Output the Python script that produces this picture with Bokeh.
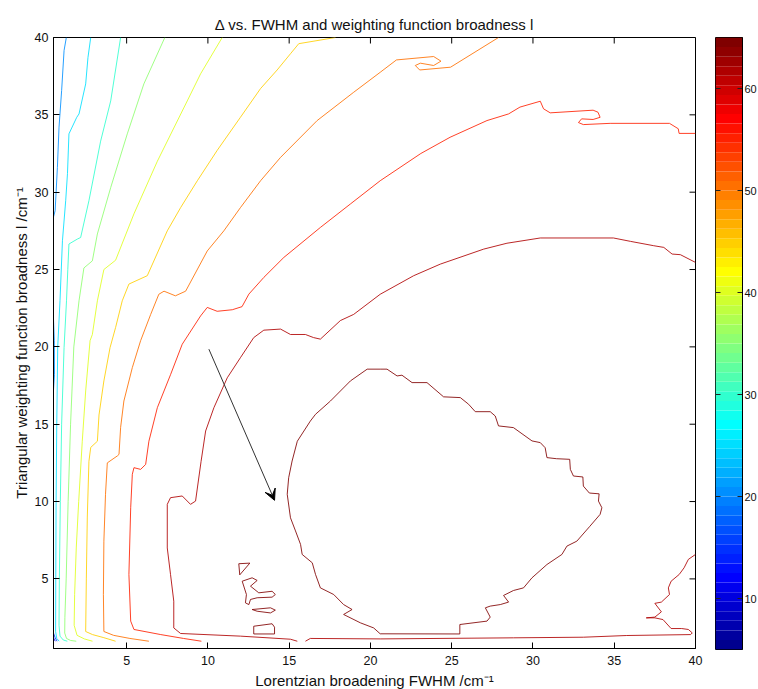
import numpy as np
from bokeh.plotting import figure
from bokeh.models import Range1d, LinearAxis, FixedTicker, Arrow, VeeHead
from bokeh.layouts import row
from bokeh.embed import file_html
from bokeh.resources import INLINE

# ---------------- data ----------------
title_text = "Δ vs. FWHM and weighting function broadness l"
x_label = "Lorentzian broadening FWHM /cm⁻¹"
y_label = "Triangular weighting function broadness l /cm⁻¹"
x_limits = [0.5, 40]
y_limits = [0.5, 40]
x_ticks = [5, 10, 15, 20, 25, 30, 35, 40]
y_ticks = [5, 10, 15, 20, 25, 30, 35, 40]
cbar_limits = [5, 65]
cbar_ticks = [10, 20, 30, 40, 50, 60]

lvl10_x = [[0.5, 0.56, 0.62]]
lvl10_y = [[1.2, 1.05, 0.97]]
lvl15_x = [[0.5, 0.6, 0.72]]
lvl15_y = [[1.5, 1.2, 0.97]]
lvl20_x = [[1.29, 1.15, 1.0, 0.84, 0.74, 0.6, 0.5], [0.5, 0.55, 0.56, 0.5]]
lvl20_y = [[40, 39.16, 36.57, 34.2, 31.6, 28.8, 28.4], [21.8, 20.4, 18.2, 17.2]]
lvl25_x = [[2.79, 2.62, 2.48, 2.07, 1.93, 1.45, 1.36, 1.25, 1.05, 0.9, 0.76, 0.7, 0.66, 0.64, 0.63, 0.7, 0.85]]
lvl25_y = [[40, 38.7, 37.0, 35.06, 34.84, 33.77, 31.2, 29.45, 26.86, 23.0, 20.0, 15.0, 10.0, 5.0, 1.6, 1.15, 0.97]]
lvl30_x = [[4.63, 4.02, 3.4, 2.68, 2.17, 1.97, 1.45, 1.38, 1.3, 1.15, 1.0, 0.92, 0.86, 0.84, 0.9, 1.1, 1.35]]
lvl30_y = [[40, 35.9, 33.3, 29.45, 27.07, 26.97, 26.65, 25.0, 22.98, 19.96, 15, 10, 5, 2.0, 1.3, 1.05, 0.97]]
lvl35_x = [[7.35, 6.06, 5.04, 4.02, 3.2, 2.89, 2.37, 2.07, 1.75, 1.55, 1.4, 1.28, 1.2, 1.19, 1.3, 1.55, 1.9]]
lvl35_y = [[40, 37.0, 33.77, 30.3, 27.3, 25.56, 25.1, 22.98, 20.0, 15, 10, 5, 2.5, 1.5, 1.15, 1.02, 0.97]]
lvl40_x = [[10.88, 9.55, 8.73, 6.89, 5.45, 4.32, 3.6, 3.2, 2.89, 2.75, 2.48, 2.27, 2.05, 1.9, 1.8, 1.77, 1.95, 2.4, 2.9]]
lvl40_y = [[40, 37.65, 35.9, 32.0, 28.6, 25.6, 25.0, 22.98, 20.8, 20.4, 17.15, 13.9, 10, 7, 4, 2, 1.35, 1.12, 0.97]]
lvl45_x = [[17.85, 15.59, 15.08, 14.26, 13.24, 12.0, 10.57, 9.35, 8.32, 7.5, 6.27, 5.14, 4.73, 4.32, 3.98, 3.6,
            3.3, 3.2, 2.79, 2.68, 2.58, 2.52, 2.48, 2.9, 3.6, 4.32]]
lvl45_y = [[40, 39.6, 38.95, 37.9, 36.7, 34.84, 32.7, 30.74, 29.0, 27.5, 24.6, 24.06, 22.98, 21.25, 19.95, 17.8,
            15.6, 13.9, 13.5, 12.6, 9.0, 5.0, 1.6, 1.4, 1.2, 0.97]]
lvl50_x = [[27.88, 24.93, 23.03, 22.76, 23.07, 23.89, 24.34, 23.89, 21.6, 20.6, 18.97, 16.72, 14.47, 13.24, 12.0,
            10.98, 9.96, 8.63, 8.0, 7.3, 6.98, 6.48, 5.86, 5.35, 4.83, 4.63, 4.53, 4.43, 3.81, 3.7, 3.6, 3.57,
            3.6, 4.2, 5.2, 6.37]]
lvl50_y = [[40, 38.08, 37.9, 38.19, 38.34, 38.19, 38.47, 38.77, 38.55, 37.75, 36.46, 34.63, 32.25, 30.74, 29.0,
            27.5, 26.2, 23.6, 23.3, 23.6, 23.4, 22.1, 20.4, 18.66, 16.5, 14.8, 13.05, 12.95, 12.5, 10.47, 7.44, 4.0,
            1.6, 1.35, 1.15, 0.97]]
lvl55_x = [[40, 38.99, 38.94, 38.4, 34.75, 33.1, 32.8, 32.99, 33.7, 34.13, 34.0, 33.7, 31.06, 30.65, 30.45, 29.2,
            28.5, 27.17, 24.9, 23.1, 20.6, 18.77, 16.92, 14.67, 13.44, 12.52, 12.1, 11.5, 10.57, 9.96, 9.55, 8.42,
            7.7, 6.89, 6.37, 6.17, 5.86, 5.45, 5.35, 5.25, 5.14, 5.25, 5.45, 7.1, 8.5, 9.6]]
lvl55_y = [[33.8, 33.8, 34.1, 34.45, 34.45, 34.37, 34.5, 34.74, 34.7, 34.84, 35.17, 35.3, 35.13, 35.39, 35.88, 35.5,
            35.06, 34.63, 33.55, 32.5, 30.74, 29.24, 27.72, 25.78, 24.49, 23.41, 22.6, 22.4, 22.3, 22.55, 22.0, 20.17,
            18.2, 16.07, 13.9, 12.4, 12.08, 12.19, 11.76, 9.6, 5.29, 2.27, 1.73, 1.4, 1.15, 0.97]]
lvl62_x = [[40, 39.07, 38.56, 38.05, 37.43, 36.0, 34.95, 30.45, 28.4, 26.97, 24.3, 22.66, 20.6, 18.97, 18.15, 16.92,
            16.5, 16.0, 15.08, 14.47, 13.44, 12.82, 12.0, 11.19, 10.37, 9.86, 9.58, 9.24, 8.93, 8.42, 7.7, 7.5, 7.5,
            7.7, 7.9, 7.9, 8.32, 12.0, 15.08, 15.5],
           [16.0, 16.3, 20.6, 28.8, 33.1, 35.77, 39.7, 39.8, 39.56, 39.15, 38.5, 38.0, 37.5, 36.97, 37.5, 37.9, 37.5,
            37.9, 38.4, 38.33, 38.5, 39.0, 39.3, 39.56, 40]]
lvl62_y = [[25.46, 25.96, 26.0, 26.43, 26.54, 26.82, 27.04, 27.04, 26.7, 26.32, 25.35, 24.6, 23.4, 22.1, 21.7, 20.5,
            20.6, 20.8, 20.8, 21.15, 21.08, 20.6, 19.3, 18.0, 16.07, 14.56, 12.6, 10.03, 9.82, 10.36, 10.25, 9.82, 7.0,
            5.29, 3.56, 1.83, 1.47, 1.3, 1.1, 0.97],
           [0.97, 1.15, 1.12, 1.19, 1.23, 1.34, 1.4, 1.51, 1.73, 1.79, 1.79, 2.37, 2.48, 2.48, 2.53, 2.87, 3.42,
            3.5, 3.99, 4.42, 4.85, 5.29, 5.72, 6.26, 6.58]]
lvl64_x = [[20.6, 21.02, 21.64, 21.94, 22.56, 23.48, 24.5, 25.53, 26.04, 26.45, 27.37, 27.68, 27.88, 28.8, 29.94,
            30.45, 30.75, 30.86, 31.45, 32.26, 32.3, 32.49, 33.07, 33.1, 33.47, 34.07, 34.03, 34.24, 34.13, 33.5,
            32.7, 32.09, 31.78, 30.86, 29.94, 29.42, 28.8, 28.19, 28.5, 27.99, 27.37, 27.07, 27.37, 27.17, 25.5,
            25.5, 20.6, 20.2, 19.38, 18.35, 18.87, 18.35, 17.74, 16.92, 16.62, 16.42, 15.8, 15.7, 15.39, 15.08,
            14.88, 14.97, 15.18, 15.5, 16.3, 16.62, 17.54, 18.77, 19.8, 20.6],
           [11.9, 12.58, 11.96, 11.9],
           [12.11, 12.72, 13.03, 12.62, 13.13, 13.95, 14.15, 13.95, 13.03, 12.62, 12.52, 12.31, 12.37, 12.11],
           [12.72, 13.85, 14.15, 13.85, 13.03, 12.72],
           [12.82, 13.95, 14.1, 14.1, 12.82, 12.82]]
lvl64_y = [[18.56, 18.56, 18.12, 18.17, 17.69, 17.69, 16.77, 16.72, 16.29, 15.81, 15.81, 15.53, 14.89, 14.78, 13.92,
            13.81, 13.48, 12.84, 12.77, 12.73, 12.08, 11.65, 11.59, 11.0, 10.55, 10.5, 10.03, 9.6, 9.17, 8.4,
            7.44, 7.12, 6.58, 5.93, 5.07, 4.42, 4.25, 3.93, 3.5, 3.34, 3.24, 3.13, 2.53, 2.27, 2.05,
            1.44, 1.45, 1.83, 2.16, 2.7, 3.02, 3.34, 3.99, 4.42, 5.29, 6.04, 6.58, 7.23, 8.1, 8.95,
            10.47, 11.54, 12.62, 13.9, 15.2, 15.64, 16.5, 17.8, 18.56, 18.56],
           [5.98, 6.02, 5.26, 5.98],
           [4.85, 5.07, 4.9, 4.53, 4.1, 4.2, 3.99, 3.82, 3.78, 3.67, 3.34, 3.45, 3.99, 4.85],
           [3.02, 3.13, 2.98, 2.8, 2.91, 3.02],
           [1.94, 2.1, 1.88, 1.44, 1.44, 1.94]]

contour_levels = [10, 15, 20, 25, 30, 35, 40, 45, 50, 55, 62, 64.5]
contour_lines = {
    10: (lvl10_x, lvl10_y), 15: (lvl15_x, lvl15_y), 20: (lvl20_x, lvl20_y), 25: (lvl25_x, lvl25_y),
    30: (lvl30_x, lvl30_y), 35: (lvl35_x, lvl35_y), 40: (lvl40_x, lvl40_y), 45: (lvl45_x, lvl45_y),
    50: (lvl50_x, lvl50_y), 55: (lvl55_x, lvl55_y), 62: (lvl62_x, lvl62_y), 64.5: (lvl64_x, lvl64_y),
}

arrow_start = (10.06, 19.85)
arrow_end = (14.1, 10.08)


# ---------------- colormap (MATLAB jet, 64 entries) ----------------
def matlab_jet(m=64):
    n = int(np.ceil(m / 4))
    u = np.concatenate([np.arange(1, n + 1) / n, np.ones(n - 1), np.arange(n, 0, -1) / n])
    g = int(np.ceil(n / 2)) - (1 if m % 4 == 1 else 0) + np.arange(1, len(u) + 1)
    r = g + n
    b = g - n
    cmap = np.zeros((m, 3))
    for arr, col in ((r, 0), (g, 1), (b, 2)):
        for idx, val in zip(arr, u):
            if 1 <= idx <= m:
                cmap[idx - 1, col] = val
    return ["#%02x%02x%02x" % tuple(int(round(c * 255)) for c in rgb) for rgb in cmap]


JET = matlab_jet(64)


def level_color(v):
    lo, hi = cbar_limits
    i = int((v - lo) / (hi - lo) * len(JET))
    return JET[max(0, min(len(JET) - 1, i))]


FONT = "Liberation Sans"
TXT = "#111111"
TICK_LEN = 6

# ---------------- main contour axes ----------------
p = figure(frame_width=642, frame_height=611,
           x_range=Range1d(*x_limits), y_range=Range1d(*y_limits),
           output_backend="svg", toolbar_location=None,
           min_border_left=53, min_border_right=10, min_border_top=37, min_border_bottom=41,
           background_fill_color="white", border_fill_color="white")
p.grid.visible = False
p.outline_line_color = "black"
p.outline_line_width = 1

p.title.text = title_text
p.title.align = "center"
p.title.text_font = FONT
p.title.text_font_size = "15px"
p.title.text_font_style = "normal"
p.title.text_color = TXT

for ax in (p.xaxis[0], p.yaxis[0]):
    ax.major_tick_in = TICK_LEN
    ax.major_tick_out = 0
    ax.minor_tick_in = 0
    ax.minor_tick_out = 0
    ax.axis_line_color = "black"
    ax.major_tick_line_color = "black"
    ax.major_label_text_font = FONT
    ax.major_label_text_font_size = "12.5px"
    ax.major_label_text_color = TXT
    ax.axis_label_text_font = FONT
    ax.axis_label_text_font_size = "15px"
    ax.axis_label_text_font_style = "normal"
    ax.axis_label_text_color = TXT
    ax.axis_label_text_line_height = 1.0

p.xaxis.ticker = FixedTicker(ticks=x_ticks)
p.yaxis.ticker = FixedTicker(ticks=y_ticks)
p.xaxis.axis_label = x_label
p.yaxis.axis_label = y_label
p.xaxis.major_label_standoff = 7
p.xaxis.axis_label_standoff = 4
p.yaxis.major_label_standoff = 5
p.yaxis.axis_label_standoff = 2

# inward ticks on the top and right sides of the box
p.ray(x=x_ticks, y=[y_limits[1]] * len(x_ticks), length=TICK_LEN, length_units="screen",
      angle=-np.pi / 2, line_color="black", line_width=1)
p.ray(x=[x_limits[1]] * len(y_ticks), y=y_ticks, length=TICK_LEN, length_units="screen",
      angle=np.pi, line_color="black", line_width=1)

for lv in contour_levels:
    xs, ys = contour_lines[lv]
    p.multi_line(xs=xs, ys=ys, line_color=level_color(lv), line_width=1, line_alpha=0.85)

p.add_layout(Arrow(end=VeeHead(size=11, fill_color="black", line_color="black", line_width=1),
                   x_start=arrow_start[0], y_start=arrow_start[1],
                   x_end=arrow_end[0], y_end=arrow_end[1],
                   line_color="#333333", line_width=1))

# ---------------- colorbar ----------------
edges = np.linspace(cbar_limits[0], cbar_limits[1], len(JET) + 1)
cb = figure(frame_width=27, frame_height=612,
            x_range=Range1d(0, 1), y_range=Range1d(*cbar_limits),
            output_backend="svg", toolbar_location=None,
            min_border_left=10, min_border_right=0, min_border_top=37, min_border_bottom=40,
            background_fill_color="white", border_fill_color="white")
cb.grid.visible = False
cb.xaxis.visible = False
cb.yaxis.visible = False
cb.outline_line_color = "black"
cb.quad(left=0, right=1, bottom=edges[:-1], top=edges[1:], fill_color=JET, line_color=None)
cb.ray(x=[0] * len(cbar_ticks), y=cbar_ticks, length=5, length_units="screen",
       angle=0, line_color="#222222", line_width=1)
cb.ray(x=[1] * len(cbar_ticks), y=cbar_ticks, length=5, length_units="screen",
       angle=np.pi, line_color="#222222", line_width=1)
cax = LinearAxis(ticker=FixedTicker(ticks=cbar_ticks))
cax.major_tick_in = 0
cax.major_tick_out = 0
cax.minor_tick_in = 0
cax.minor_tick_out = 0
cax.axis_line_color = "black"
cax.major_label_text_font = FONT
cax.major_label_text_font_size = "11px"
cax.major_label_text_color = TXT
cax.major_label_standoff = 2
cb.add_layout(cax, "right")

layout = row(p, cb)
open("out.html", "w").write(file_html(layout, INLINE))
